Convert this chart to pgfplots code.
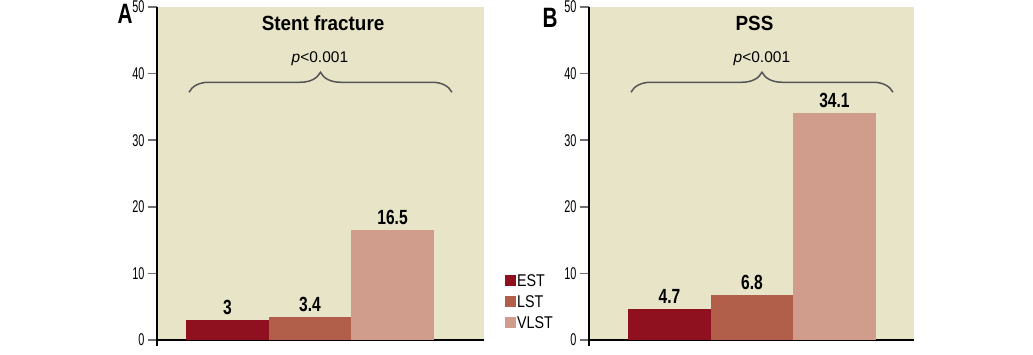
\documentclass[border=0pt]{standalone}
\usepackage{fontspec}
\setmainfont{Liberation Sans}
\newfontfamily\tickfont[FakeStretch=0.64]{Liberation Sans}
\newfontfamily\barfont[FakeStretch=0.76]{Liberation Sans}
\newfontfamily\titlefont[FakeStretch=0.92]{Liberation Sans}
\newfontfamily\legfont[FakeStretch=0.84]{Liberation Sans}
\newfontfamily\panelfont[FakeStretch=0.74]{Liberation Sans}
\usepackage{pgfplots}
\pgfplotsset{compat=1.18}
\usetikzlibrary{decorations.pathreplacing}

\definecolor{estc}{RGB}{143,16,30}
\definecolor{lstc}{RGB}{177,94,75}
\definecolor{vlstc}{RGB}{208,157,140}
\definecolor{bgc}{RGB}{232,228,200}
\definecolor{tickgray}{RGB}{112,112,112}
\definecolor{bracegray}{RGB}{85,85,85}

\pgfplotsset{
  panel/.style={
    scale only axis, height=333pt,
    ymin=0, ymax=50, ytick={0,10,...,50}, xtick=\empty,
    axis lines=left,
    axis line style={-, black, line width=1.6pt},
    y axis line style={shorten <=-6pt},
    axis background/.style={fill=bgc},
    major tick length=9pt, tick align=outside,
    every tick/.style={draw=tickgray, line width=1.6pt},
    yticklabel style={font=\tickfont\fontsize{17}{17}\selectfont, text=black},
    /pgf/number format/assume math mode=true,
    clip=false,
    nodes near coords,
    nodes near coords style={font=\barfont\bfseries\fontsize{20.5}{20.5}\selectfont, anchor=south, inner sep=0pt, yshift=5pt, text=black},
  },
  mybar/.style={ybar, bar width=82.5pt, bar shift=0pt, draw=none,
    legend image code/.code={\fill[##1, draw=none] (0pt,-5.5pt) rectangle (11pt,5.5pt);}},
}

\begin{document}
\begin{tikzpicture}
\useasboundingbox (0,0) rectangle (1033pt,354pt);
% Panel A
\begin{axis}[panel, width=327pt, at={(157pt,14pt)}, anchor=south west,
  xmin=-0.855, xmax=3.109,
  legend style={at={(1.055,0.205)}, anchor=north west, draw=none, fill=none,
    font=\legfont\fontsize{17}{17}\selectfont, row sep=7pt, cells={anchor=west},
    nodes={inner sep=1pt, text height=12pt, text depth=0pt}},
  ]
\addplot[mybar, fill=estc] coordinates {(0,3)};
\addplot[mybar, fill=lstc] coordinates {(1,3.4)};
\addplot[mybar, fill=vlstc] coordinates {(2,16.5)};
\legend{EST,LST,VLST}
\draw[decorate, decoration={brace, amplitude=20pt}, draw=bracegray, line width=1.5pt]
  (axis cs:-0.467,37.2) -- (axis cs:2.72,37.2);
\node[font=\titlefont\bfseries\fontsize{20.5}{20.5}\selectfont] at (axis cs:1.158,47.5) {Stent fracture};
\node[font=\fontsize{15.5}{15.5}\selectfont] at (axis cs:1.12,42.2) {\textit{p}<0.001};
\node[font=\panelfont\bfseries\fontsize{28}{28}\selectfont] at (axis cs:-1.242,49.0) {A};
\end{axis}
% Panel B
\begin{axis}[panel, width=325pt, at={(589pt,14pt)}, anchor=south west,
  xmin=-0.976, xmax=2.964]
\addplot[mybar, fill=estc] coordinates {(0,4.7)};
\addplot[mybar, fill=lstc] coordinates {(1,6.8)};
\addplot[mybar, fill=vlstc] coordinates {(2,34.1)};
\draw[decorate, decoration={brace, amplitude=20pt}, draw=bracegray, line width=1.5pt]
  (axis cs:-0.467,37.2) -- (axis cs:2.709,37.2);
\node[font=\titlefont\bfseries\fontsize{20.5}{20.5}\selectfont] at (axis cs:1.03,47.5) {PSS};
\node[font=\fontsize{15.5}{15.5}\selectfont] at (axis cs:1.12,42.2) {\textit{p}<0.001};
\node[font=\panelfont\bfseries\fontsize{28}{28}\selectfont] at (axis cs:-1.448,48.3) {B};
\end{axis}
\end{tikzpicture}
\end{document}
